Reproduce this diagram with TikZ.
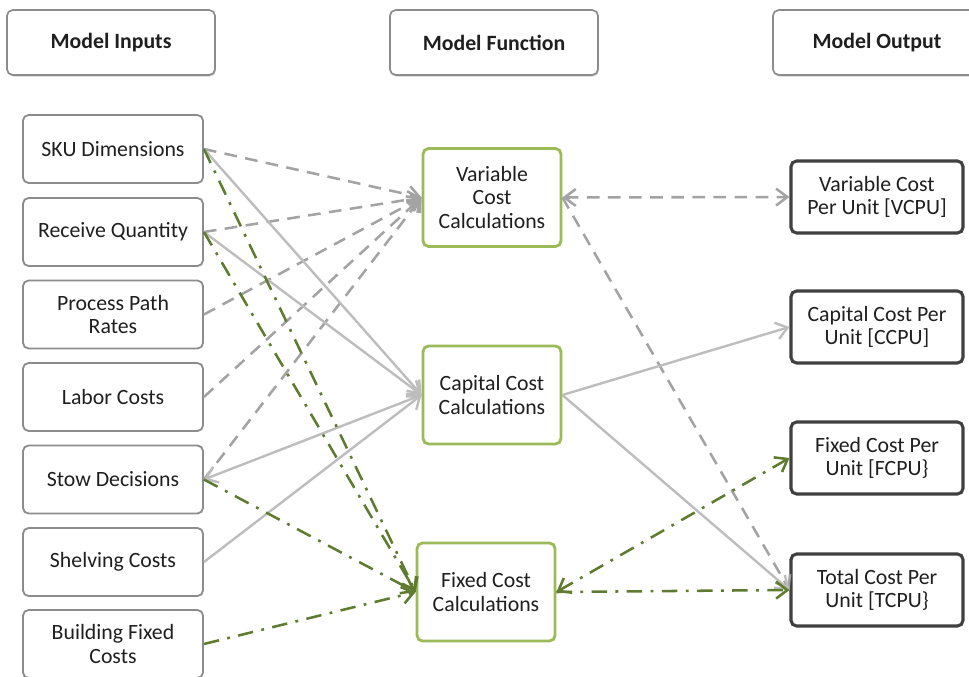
\documentclass[tikz,border=0pt]{standalone}
\usepackage{fontspec}
\setmainfont{Carlito}
\usepackage{tikz}
\usetikzlibrary{arrows.meta}
\usetikzlibrary{shadows}
\definecolor{boxgray}{HTML}{8C8C8C}
\definecolor{calcgreen}{HTML}{9BBB59}
\definecolor{linkgreen}{HTML}{5F7B30}
\definecolor{linkgray}{HTML}{A3A3A3}
\definecolor{solidgray}{HTML}{BDBDBD}
\definecolor{outdark}{HTML}{404040}
\definecolor{txt}{HTML}{1F1F1F}
\tikzset{txtfont/.style={font=\fontsize{15.5}{16.5}\selectfont, text=txt},
  head/.style={txtfont, font=\fontsize{15.5}{16.5}\selectfont\bfseries, draw=boxgray, line width=1.2pt, rounded corners=4pt, fill=white, minimum width=5.2cm, minimum height=1.62cm, drop shadow={shadow xshift=0.5pt, shadow yshift=-1.2pt, opacity=0.35}},
  inbox/.style={txtfont, draw=boxgray, line width=1.3pt, rounded corners=4pt, minimum width=4.5cm, minimum height=1.7cm, align=center},
  calcbox/.style={txtfont, draw=calcgreen, line width=2pt, rounded corners=4pt, minimum width=3.45cm, minimum height=2.45cm, align=center},
  outbox/.style={txtfont, draw=outdark, line width=2.2pt, rounded corners=4pt, minimum width=4.3cm, minimum height=1.8cm, align=center},
  graydash/.style={draw=linkgray, line width=1.8pt, dash pattern=on 9pt off 6pt},
  graysolid/.style={draw=solidgray, line width=1.7pt},
  greendash/.style={draw=linkgreen, line width=1.8pt, dash pattern=on 11pt off 6pt on 2pt off 6pt}}

\begin{document}
\begin{tikzpicture}[x=0.025cm, y=-0.025cm, >={Straight Barb[length=8pt,width=12pt]}]
      \fill[white] (0,0) rectangle (969,677);
      \useasboundingbox (0,0) rectangle (969,677);

      % column headers
      \node[head] (hin) at (111,42.5) {Model Inputs};
      \node[head] (hfun) at (494,42.5) {Model Function};
      \node[head] (hout) at (877,42.5) {Model Output};

      % inputs
      \node[inbox] (sku) at (113,149) {SKU Dimensions};
      \node[inbox] (recv) at (113,232) {Receive Quantity};
      \node[inbox] (path) at (113,314.5) {Process Path\\Rates};
      \node[inbox] (labor) at (113,397) {Labor Costs};
      \node[inbox] (stow) at (113,479.5) {Stow Decisions};
      \node[inbox] (shelf) at (113,562) {Shelving Costs};
      \node[inbox] (bldg) at (113,644) {Building Fixed\\Costs};

      % calculations
      \node[calcbox] (var) at (492,197.5) {Variable\\Cost\\Calculations};
      \node[calcbox] (cap) at (492,395) {Capital Cost\\Calculations};
      \node[calcbox] (fix) at (486,592) {Fixed Cost\\Calculations};

      % outputs
      \node[outbox] (vcpu) at (877,197) {Variable Cost\\Per Unit [VCPU]};
      \node[outbox] (ccpu) at (877,327) {Capital Cost Per\\Unit [CCPU]};
      \node[outbox] (fcpu) at (877,458) {Fixed Cost Per\\Unit [FCPU\}};
      \node[outbox] (tcpu) at (877,590) {Total Cost Per\\Unit [TCPU\}};

      % inputs to variable cost
      \draw[->,graydash] (sku.east) -- (var.west);
      \draw[->,graydash] (recv.east) -- (var.west);
      \draw[->,graydash] (path.east) -- (var.west);
      \draw[->,graydash] (labor.east) -- (var.west);
      \draw[->,graydash] (stow.east) -- (var.west);

      % inputs to capital cost
      \draw[->,graysolid] (sku.east) -- (cap.west);
      \draw[->,graysolid] (recv.east) -- (cap.west);
      \draw[->,graysolid] (cap.west) -- (stow.east);
      \draw[->,graysolid] (shelf.east) -- (cap.west);

      % inputs to fixed cost
      \draw[->,greendash] (sku.east) -- (fix.west);
      \draw[->,greendash] (recv.east) -- (fix.west);
      \draw[->,greendash] (stow.east) -- (fix.west);
      \draw[->,greendash] (bldg.east) -- (fix.west);

      % calculations to outputs
      \draw[<->,graydash] (var.east) -- (vcpu.west);
      \draw[->,graydash] (var.east) -- (tcpu.west);
      \draw[->,graysolid] (cap.east) -- (ccpu.west);
      \draw[->,graysolid] (cap.east) -- (tcpu.west);
      \draw[<->,greendash] (fix.east) -- (fcpu.west);
      \draw[->,greendash] (fix.east) -- (tcpu.west);
  \end{tikzpicture}
\end{document}
